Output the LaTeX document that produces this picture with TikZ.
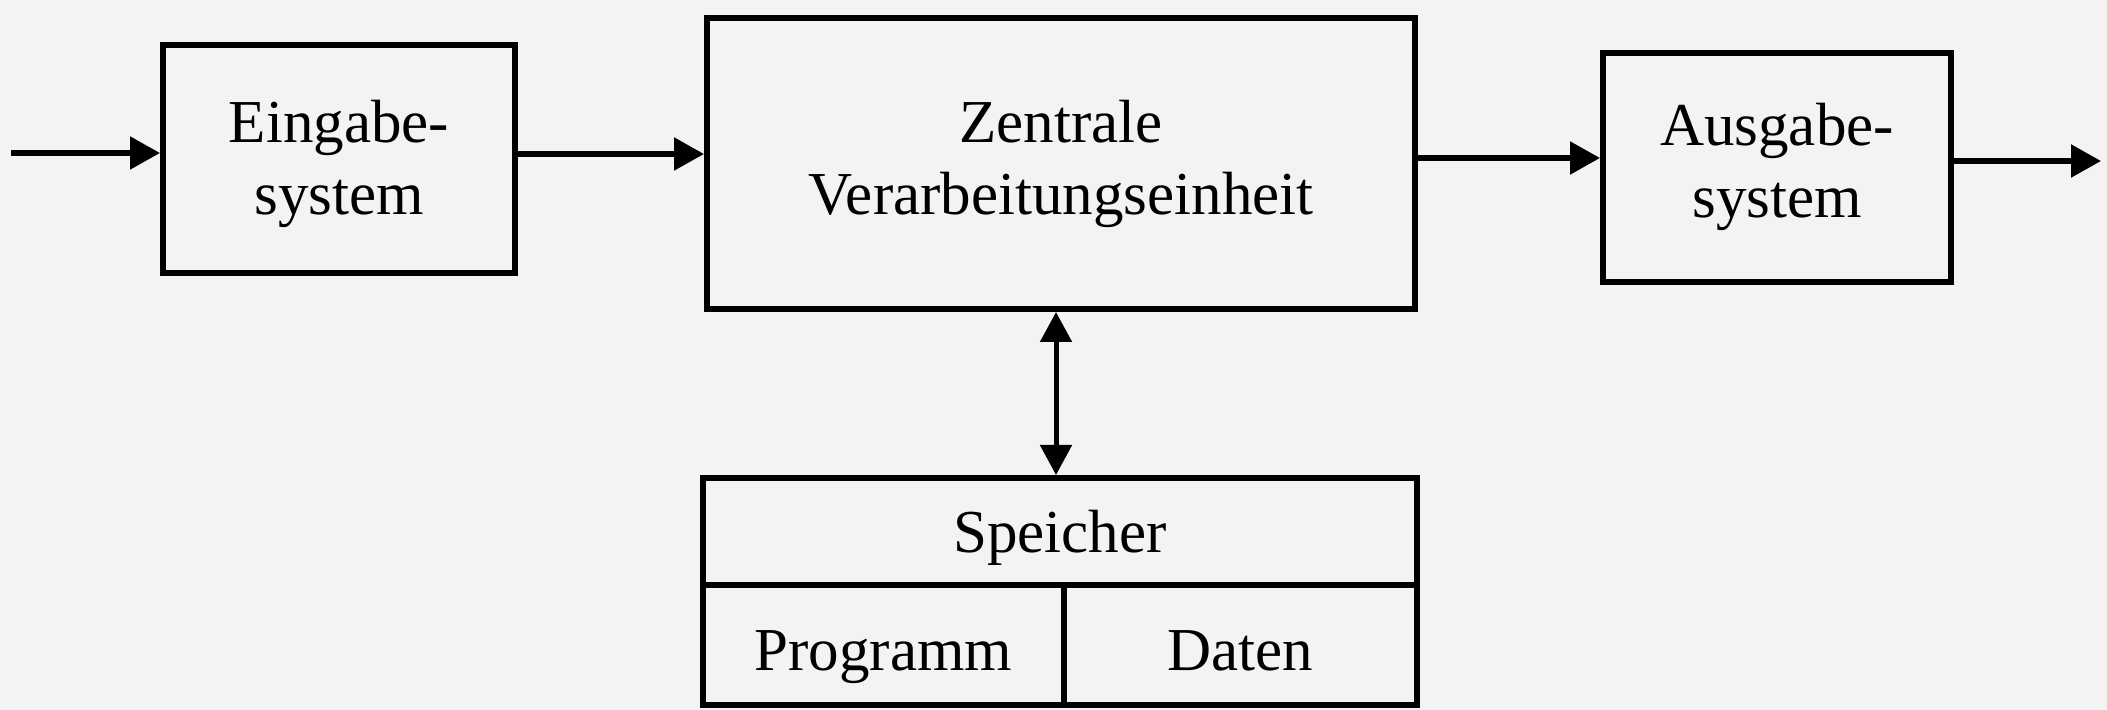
\documentclass[tikz,border=0pt]{standalone}
\usepackage{fontspec}
\setmainfont{Liberation Serif}
\usetikzlibrary{arrows.meta}
\definecolor{bg}{RGB}{243,243,243}
\begin{document}
\begin{tikzpicture}[x=0.5pt,y=-0.5pt,
  box/.style={draw, line width=3pt, fill=bg, inner sep=0pt},
  txt/.style={inner sep=0pt, anchor=base, align=center,
    font=\fontsize{30.5}{36}\selectfont},
  arr/.style={line width=2.7pt, -{Triangle[length=15pt,width=16pt]}},
  darr/.style={line width=2.5pt, {Triangle[length=15pt,width=15.5pt]}-{Triangle[length=15pt,width=15.5pt]}}]
\fill[bg] (0,0) rectangle (2107,710);
\useasboundingbox (0,0) rectangle (2107,710);
\node[box, minimum width=176pt, minimum height=114pt] (ein) at (339,159) {};
\node[box, minimum width=354pt, minimum height=145.5pt] (zen) at (1061,163.5) {};
\node[box, minimum width=174pt, minimum height=114.5pt] (aus) at (1777,167.5) {};
\node[box, minimum width=357pt, minimum height=53.5pt] (sp) at (1060,531.5) {};
\node[box, minimum width=180.5pt, minimum height=60pt] (prog) at (883.5,645) {};
\node[box, minimum width=176.5pt, minimum height=60pt] (dat) at (1240.5,645) {};
\node[txt] (eint) at (ein.center |- 0,215) {Eingabe-\\system};
\node[txt] (zent) at (zen.center |- 0,215) {Zentrale\\Verarbeitungseinheit};
\node[txt] (aust) at (aus.center |- 0,218) {Ausgabe-\\system};
\node[txt] (spt) at (sp.center |- 0,552) {Speicher};
\node[txt] (progt) at (prog.center |- 0,670) {Programm};
\node[txt] (datt) at (dat.center |- 0,670) {Daten};
\coordinate (in) at (11,153);
\coordinate (out) at (2101,161);
\draw[arr] (in) -- (ein.west |- in);
\draw[arr] (ein.east |- 0,154) -- (zen.west |- 0,154);
\draw[arr] (zen.east |- 0,158) -- (aus.west |- 0,158);
\draw[arr] (aus.east |- out) -- (out);
\draw[darr] (zen.south -| 1056,0) -- (sp.north -| 1056,0);
\end{tikzpicture}
\end{document}
